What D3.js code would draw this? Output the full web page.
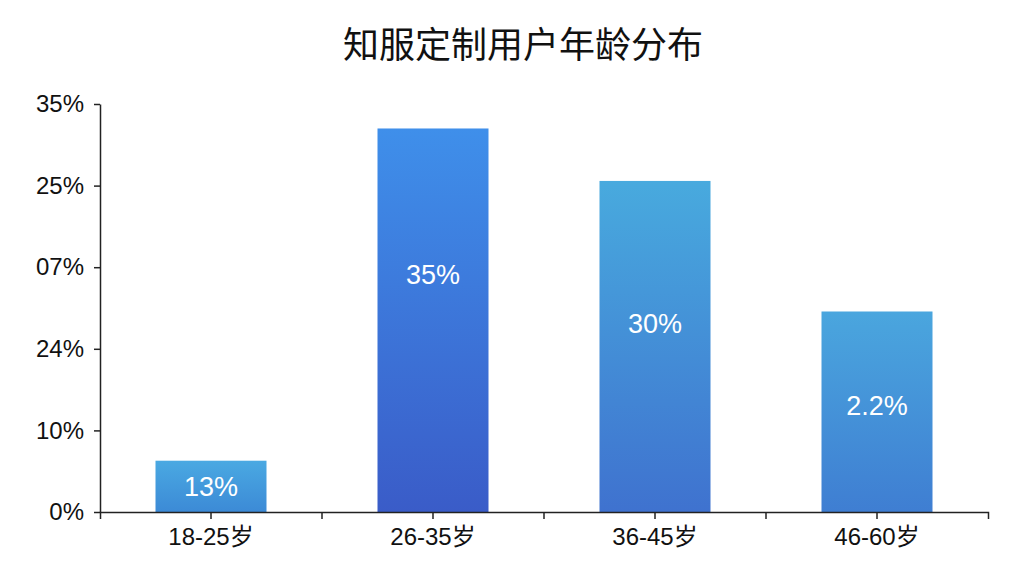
<!DOCTYPE html>
<html>
<head>
<meta charset="utf-8">
<title>知服定制用户年龄分布</title>
<script src="https://d3js.org/d3.v7.min.js"></script>
<style>
    body { margin: 0; background: #fff; }
    text { font-family: "Liberation Sans", Arial, "Noto Sans CJK SC", sans-serif; }
</style>
</head>
<body>
<div id="chart"></div>
<script>
// data
const ageGroups = ["18-25岁", "26-35岁", "36-45岁", "46-60岁"];
const barHeights = [4.4, 32.9, 28.4, 17.2];       // in axis units (0..35)
const barLabels = ["13%", "35%", "30%", "2.2%"];
const labelAt = [0.5, 0.62, 0.57, 0.53];          // share of bar height where the label sits
const tickValues = [0, 7, 14, 21, 28, 35];
const tickLabels = ["0%", "10%", "24%", "07%", "25%", "35%"];
const barTop = ["#4aa9e2", "#3f8fea", "#48aade", "#4aa6de"];
const barBottom = ["#3c8ad6", "#3a5cc8", "#3f72cf", "#3f7ed2"];

const width = 1024, height = 576;
const margin = { top: 104, right: 36, bottom: 64, left: 100 };

const svg = d3.select("#chart")
    .append("svg")
    .attr("width", width)
    .attr("height", height);

// gradients for bars
const defs = svg.append("defs");
ageGroups.forEach((g, i) => {
    const grad = defs.append("linearGradient")
        .attr("id", "grad" + i)
        .attr("x1", 0).attr("y1", 0).attr("x2", 0).attr("y2", 1);
    grad.append("stop").attr("offset", "0%").attr("stop-color", barTop[i]);
    grad.append("stop").attr("offset", "100%").attr("stop-color", barBottom[i]);
});

const x = d3.scaleBand()
    .domain(ageGroups)
    .range([margin.left, width - margin.right])
    .paddingInner(0.5)
    .paddingOuter(0.25);

const y = d3.scaleLinear()
    .domain([0, 35])
    .range([height - margin.bottom, margin.top]);

// title
svg.append("text")
    .attr("x", 523)
    .attr("y", 58)
    .attr("text-anchor", "middle")
    .style("font-family", "'Noto Sans CJK SC', sans-serif")
    .style("font-size", "36px")
    .style("font-weight", 400)
    .attr("fill", "#111")
    .text("知服定制用户年龄分布");

// bars
svg.append("g")
    .selectAll("rect")
    .data(barHeights)
    .join("rect")
    .attr("x", (d, i) => x(ageGroups[i]))
    .attr("y", d => y(d))
    .attr("width", x.bandwidth())
    .attr("height", d => y(0) - y(d))
    .attr("fill", (d, i) => `url(#grad${i})`);

// labels inside bars
svg.append("g")
    .selectAll("text")
    .data(barHeights)
    .join("text")
    .attr("x", (d, i) => x(ageGroups[i]) + x.bandwidth() / 2)
    .attr("y", (d, i) => y(d * labelAt[i]))
    .attr("dy", "0.35em")
    .attr("text-anchor", "middle")
    .attr("fill", "#fff")
    .style("font-size", "27px")
    .text((d, i) => barLabels[i]);

// y axis
const yAxis = svg.append("g")
    .attr("transform", `translate(${margin.left},0)`)
    .call(d3.axisLeft(y)
        .tickValues(tickValues)
        .tickFormat((d, i) => tickLabels[i])
        .tickSize(6)
        .tickSizeOuter(0));
yAxis.select(".domain").attr("stroke", "#222").attr("stroke-width", 1.5);
yAxis.selectAll(".tick line").attr("stroke", "#222").attr("stroke-width", 1.5);
yAxis.selectAll(".tick text")
    .attr("x", -16)
    .attr("fill", "#111")
    .style("font-family", "'Liberation Sans', Arial, sans-serif")
    .style("font-size", "24px");

// x axis
const xAxis = svg.append("g")
    .attr("transform", `translate(0,${y(0)})`)
    .call(d3.axisBottom(x).tickSize(7).tickSizeOuter(7));
xAxis.select(".domain").attr("stroke", "#222").attr("stroke-width", 1.5);
xAxis.selectAll(".tick line").attr("stroke", "#222").attr("stroke-width", 1.5);
xAxis.selectAll(".tick text")
    .attr("y", 16)
    .attr("fill", "#111")
    .style("font-family", "'Liberation Sans', 'Noto Sans CJK SC', sans-serif")
    .style("font-size", "24px");

// boundary ticks between categories
xAxis.selectAll(".sep")
    .data(ageGroups.slice(1))
    .join("line")
    .attr("class", "sep")
    .attr("x1", d => x(d) - x.step() * x.paddingInner() / 2)
    .attr("x2", d => x(d) - x.step() * x.paddingInner() / 2)
    .attr("y1", 0)
    .attr("y2", 7)
    .attr("stroke", "#222")
    .attr("stroke-width", 1.5);
</script>
</body>
</html>
